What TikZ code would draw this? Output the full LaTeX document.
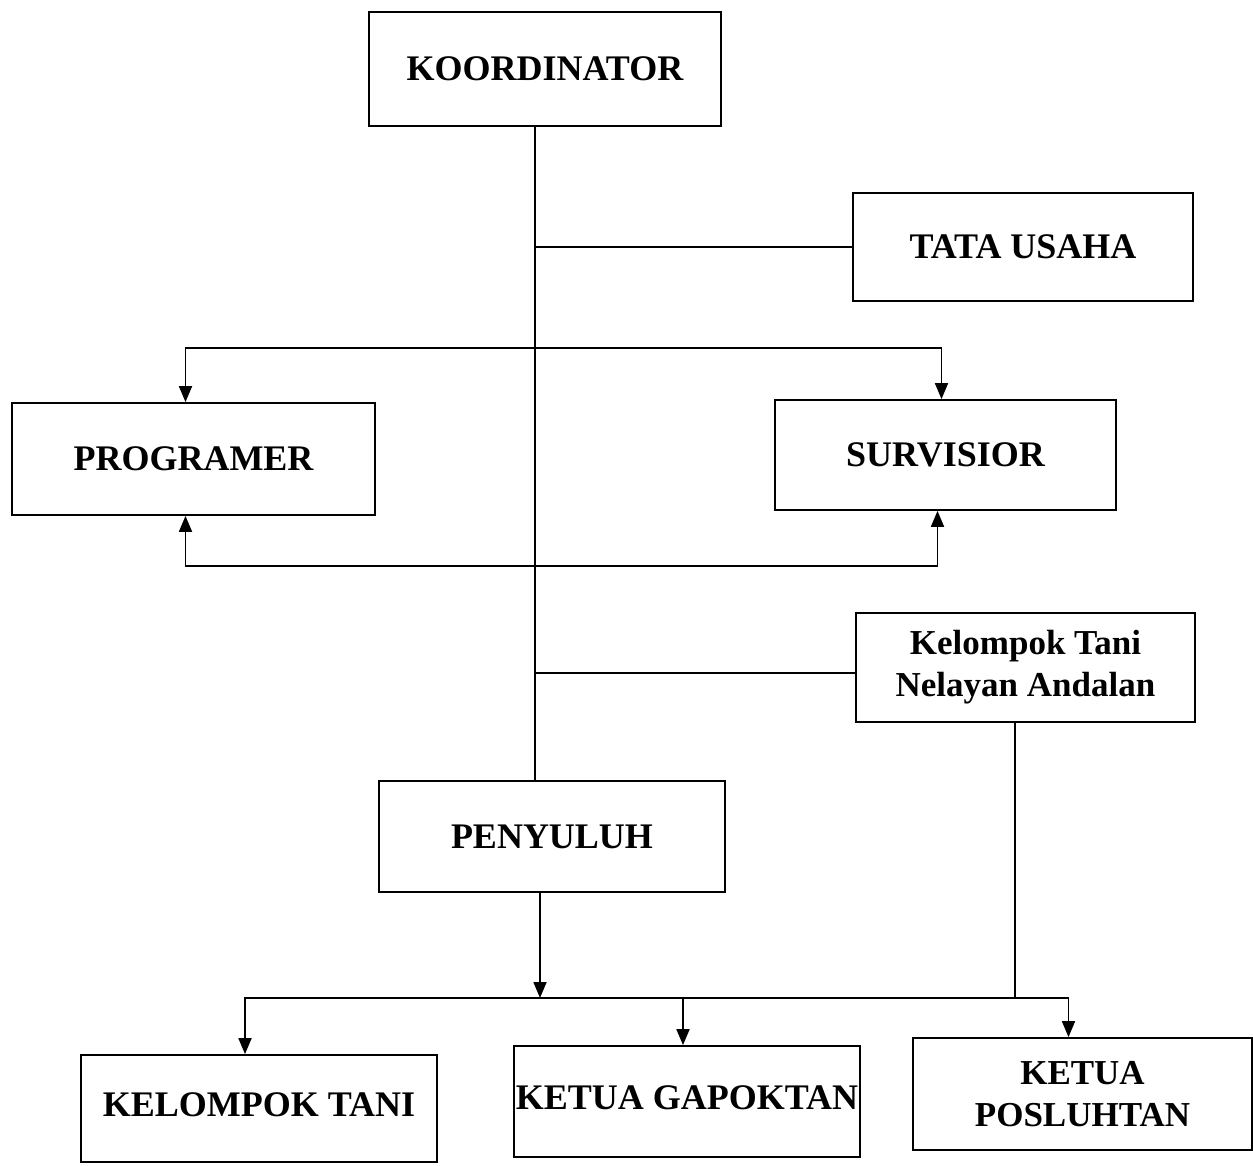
\documentclass[tikz,border=0pt]{standalone}
\usepackage{fontspec}
\setmainfont{Liberation Serif}
\usetikzlibrary{arrows.meta}
\begin{document}
\begin{tikzpicture}[x=0.5pt,y=-0.5pt,
  box/.style={draw,line width=0.9pt,rectangle,inner sep=0pt,font=\bfseries\fontsize{18}{21}\selectfont,align=center},
  twoline/.style={font=\bfseries\fontsize{17.5}{21}\selectfont},
  conn/.style={line width=0.9pt},
  arr/.style={line width=0.9pt,-{Triangle[length=8pt,width=6.5pt]}}]
\useasboundingbox[fill=white] (0,0) rectangle (1253,1166);
\node[box,minimum width=176pt,minimum height=57pt] (koord) at (545,69) {\raisebox{-1pt}{KOORDINATOR}};
\node[box,minimum width=170pt,minimum height=54pt] (tata) at (1023,247) {TATA USAHA};
\node[box,minimum width=181.5pt,minimum height=56pt] (prog) at (193.5,459) {PROGRAMER};
\node[box,minimum width=170.5pt,minimum height=55pt] (surv) at (945.5,455) {SURVISIOR};
\node[box,twoline,minimum width=169.5pt,minimum height=54.5pt] (ktna) at (1025.5,667.5) {Kelompok Tani\\Nelayan Andalan};
\node[box,minimum width=173pt,minimum height=55.5pt] (peny) at (552,836.5) {PENYULUH};
\node[box,minimum width=178pt,minimum height=53.5pt] (kt) at (259,1108.5) {\raisebox{4pt}{KELOMPOK TANI}};
\node[box,minimum width=173pt,minimum height=55.5pt] (kg) at (687,1101.5) {\raisebox{4pt}{KETUA GAPOKTAN}};
\node[box,twoline,minimum width=169.5pt,minimum height=56pt] (kp) at (1082.5,1094) {KETUA\\POSLUHTAN};
\coordinate (spine) at (535,0);
\coordinate (ctop) at (535,348);
\coordinate (cbot) at (535,566);
\coordinate (ktnaj) at (535,673);
\coordinate (hub) at (540,998);
\coordinate (ktnadrop) at (1015,998);
% main spine
\draw[conn] (koord.south -| spine) -- (peny.north -| spine);
\draw[conn] (tata.west) -- (tata.west -| spine);
\draw[conn] (ktna.west |- ktnaj) -- (ktnaj);
% programer / survisior
\draw[arr] (ctop) -| ([xshift=-4pt]prog.north);
\draw[arr] (ctop) -| ([xshift=-2pt]surv.north);
\draw[arr] (cbot) -| ([xshift=-4pt]prog.south);
\draw[arr] (cbot) -| ([xshift=-4pt]surv.south);
% penyuluh down
\draw[arr] (peny.south -| hub) -- (hub);
\draw[arr] (hub) -| ([xshift=-7pt]kt.north);
\draw[arr] (hub) -| ([xshift=-2pt]kg.north);
\draw[arr] (hub) -| ([xshift=-7pt]kp.north);
\draw[conn] (ktna.south -| ktnadrop) -- (ktnadrop);
\end{tikzpicture}
\end{document}
